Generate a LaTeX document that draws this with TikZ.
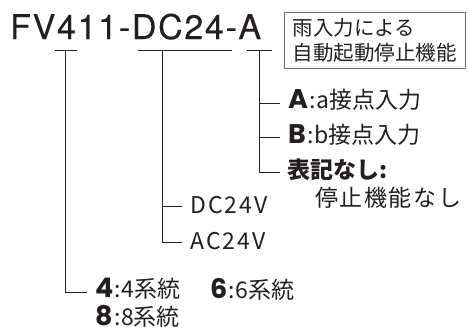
\documentclass[tikz,border=0pt]{standalone}
\usepackage{fontspec}
\setmainfont{Noto Sans CJK JP}
\newfontfamily\titlefont[LetterSpace=5,FakeBold=0.3]{TeX Gyre Heros}
\newfontfamily\bkfont{Poppins}
\definecolor{ink}{HTML}{231F20}
\definecolor{boxgray}{HTML}{6E6E6E}
\newcommand{\bk}[1]{{\bkfont\bfseries\fontsize{27bp}{28bp}\selectfont #1}\kern1.5bp:\kern0.5bp}
\newcommand{\ksp}{\kern1.6bp}
\begin{document}
\begin{tikzpicture}[x=1bp,y=-1bp,
  line/.style={draw=ink,line width=0.9bp},
  lbl/.style={anchor=west,inner sep=0,text=ink,font=\fontsize{23bp}{26bp}\selectfont},
  volt/.style={anchor=west,inner sep=0,text=ink,font=\fontsize{23bp}{26bp}\selectfont}]
\useasboundingbox (0,0) rectangle (468,329);
% title
\node[anchor=base west,inner sep=0,text=ink,font=\fontsize{34bp}{40bp}\titlefont] (title) at (10,39) {FV411-DC24-A};
% box
\node[draw=boxgray,line width=1bp,minimum width=181bp,minimum height=56bp,inner sep=0,align=left,text=ink,font=\fontsize{20.5bp}{25bp}\selectfont] (box) at (374.5,40) {雨入力による\\自動起動停止機能};
% tick coordinates
\coordinate (t1a) at (55,50); \coordinate (t1b) at (77,50); \coordinate (t1) at (65,50);
\coordinate (t2a) at (138,50); \coordinate (t2b) at (232,50); \coordinate (t2) at (162,50);
\coordinate (t3a) at (247,50); \coordinate (t3b) at (272,50); \coordinate (t3) at (259,50);
% labels
\node[lbl] (nA) at (288,100) {\bk{A}a接点入力};
\node[lbl] (nB) at (288,135) {\bk{B}b接点入力};
\node[lbl] (nN) at (287,170) {\bfseries 表記なし:};
\node[lbl] (nN2) at (315,198) {停\ksp 止\ksp 機\ksp 能\ksp な\ksp し};
\node[volt] (nDC) at (190,205) {D\kern2bp C\kern2bp 2\kern2bp 4\kern2bp V};
\node[volt] (nAC) at (190,241) {A\kern2bp C\kern2bp 2\kern2bp 4\kern2bp V};
\node[lbl] (n4) at (95,289) {\bk{4}4系統};
\node[lbl] (n6) at (210,289) {\bk{6}6系統};
\node[lbl] (n8) at (95,316) {\bk{8}8系統};
% connector end points
\coordinate (e4) at ([xshift=-8bp,yshift=-3bp]n4.west);
\coordinate (eAC) at ([xshift=-8bp,yshift=-1bp]nAC.west);
\coordinate (eDC) at ([xshift=-8bp,yshift=-1bp]nDC.west);
\coordinate (eN) at ([xshift=-7bp,yshift=-2bp]nN.west);
\coordinate (eA) at ([xshift=-8bp,yshift=-3bp]nA.west);
\coordinate (eB) at ([xshift=-8bp,yshift=-2bp]nB.west);
% connectors
\draw[line] (t1a) -- (t1b);
\draw[line] (t2a) -- (t2b);
\draw[line] (t3a) -- (t3b);
\draw[line] (t1) |- (e4);
\draw[line] (t2) |- (eAC);
\draw[line] (t2 |- eDC) -- (eDC);
\draw[line] (t3) |- (eN);
\draw[line] (t3 |- eA) -- (eA);
\draw[line] (t3 |- eB) -- (eB);
\end{tikzpicture}
\end{document}
